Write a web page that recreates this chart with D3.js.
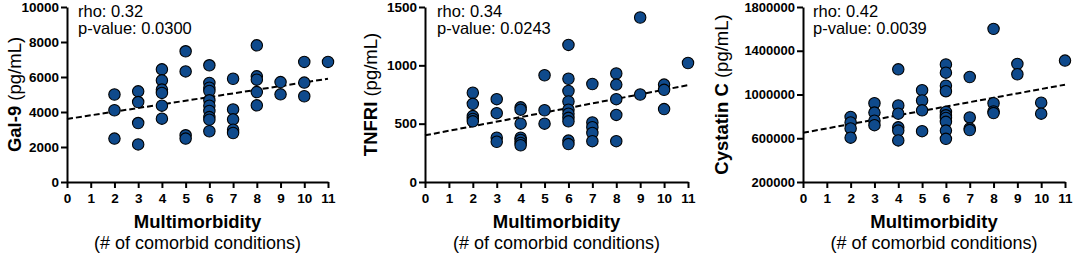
<!DOCTYPE html>
<html>
<head>
<meta charset="utf-8">
<script src="https://cdn.jsdelivr.net/npm/d3@7"></script>
<style>
  body { margin: 0; background: #fff; }
  svg { display: block; font-family: Arial, "Liberation Sans", sans-serif; }
  .axis path, .axis line { stroke: #000; stroke-width: 2; }
  .axis text { font-weight: bold; fill: #000; }
</style>
</head>
<body>
<div id="chart"></div>
<script>
// x categories: number of comorbid conditions
const morbidity = [0, 1, 2, 3, 4, 5, 6, 7, 8, 9, 10, 11];

// values per multimorbidity count (index = count)
const gal9Values = [
  [], [],
  [5000, 4100, 2480],
  [5180, 4570, 3370, 2150],
  [6440, 5810, 5280, 5090, 4360, 3620],
  [7470, 6320, 2670, 2480],
  [6670, 5660, 5390, 5200, 4670, 4360, 4060, 3710, 3560, 2900],
  [5900, 4150, 3580, 2990, 2800],
  [7810, 6040, 5850, 5140, 4380],
  [5710, 5010],
  [6860, 5680, 4900],
  [6860]
];
const tnfriValues = [
  [], [],
  [765, 670, 565, 540, 520],
  [710, 590, 380, 345],
  [640, 620, 500, 380, 360, 335, 315],
  [915, 615, 500],
  [1175, 885, 780, 690, 620, 585, 550, 520, 355, 325],
  [840, 510, 470, 420, 350],
  [930, 835, 710, 575, 350],
  [1410, 750],
  [835, 790, 625],
  [1020]
];
const cystatinValues = [
  [], [],
  [795000, 745000, 690000, 605000],
  [920000, 835000, 760000, 720000],
  [1230000, 900000, 825000, 700000, 670000, 580000],
  [1040000, 945000, 855000, 665000],
  [1275000, 1200000, 1080000, 1030000, 840000, 810000, 785000, 750000, 670000, 595000],
  [1160000, 790000, 690000, 675000],
  [1600000, 920000, 845000, 830000],
  [1280000, 1185000],
  [925000, 825000],
  [1310000]
];

// fitted line values at x = 0 and x = 11
const gal9Fit = [3600, 5900];
const tnfriFit = [400, 830];
const cystatinFit = [650000, 1090000];

const gal9Ticks = [0, 2000, 4000, 6000, 8000, 10000];
const tnfriTicks = [0, 500, 1000, 1500];
const cystatinTicks = [200000, 600000, 1000000, 1400000, 1800000];

const stats = [
  ["rho: 0.32", "p-value: 0.0300"],
  ["rho: 0.34", "p-value: 0.0243"],
  ["rho: 0.42", "p-value: 0.0039"]
];

const width = 1074, height = 256;
const padTop = 7, padBottom = 182;
const dotColor = "#0f4a8c";

const svg = d3.select("#chart").append("svg")
  .attr("width", width)
  .attr("height", height);

const panels = [
  { values: gal9Values, fit: gal9Fit, ticks: gal9Ticks, domain: [0, 10000],
    x0: 67, x1: 328, titleBold: "Gal-9", titleOff: 46, tickFont: 13.5, statsOff: 11, stats: stats[0] },
  { values: tnfriValues, fit: tnfriFit, ticks: tnfriTicks, domain: [0, 1500],
    x0: 425, x1: 688, titleBold: "TNFRI", titleOff: 48, tickFont: 13.5, statsOff: 12, stats: stats[1] },
  { values: cystatinValues, fit: cystatinFit, ticks: cystatinTicks, domain: [200000, 1800000],
    x0: 803, x1: 1065, titleBold: "Cystatin C", titleOff: 75, tickFont: 13, statsOff: 10, stats: stats[2] }
];

panels.forEach(drawPanel);

function drawPanel(p) {
  const g = svg.append("g");

  const xScale = d3.scaleLinear()
    .domain([0, 11])
    .range([p.x0, p.x1]);

  const yScale = d3.scaleLinear()
    .domain(p.domain)
    .range([padBottom, padTop]);

  // x axis
  g.append("g")
    .attr("class", "axis")
    .attr("transform", "translate(0," + padBottom + ")")
    .call(d3.axisBottom(xScale).tickValues(morbidity).tickSize(6).tickSizeOuter(0).tickPadding(5))
    .selectAll("text")
    .style("font-size", "13.5px");

  // y axis
  g.append("g")
    .attr("class", "axis")
    .attr("transform", "translate(" + p.x0 + ",0)")
    .call(d3.axisLeft(yScale).tickValues(p.ticks).tickSize(6).tickSizeOuter(0).tickPadding(2)
      .tickFormat(d3.format("d")))
    .selectAll("text")
    .style("font-size", p.tickFont + "px");

  // dashed regression line
  g.append("line")
    .attr("x1", xScale(0))
    .attr("y1", yScale(p.fit[0]))
    .attr("x2", xScale(11))
    .attr("y2", yScale(p.fit[1]))
    .style("stroke", "#000")
    .style("stroke-width", 2)
    .style("stroke-dasharray", "6,3");

  // points
  const points = [];
  p.values.forEach((vals, i) => vals.forEach(v => points.push({ x: morbidity[i], y: v })));

  g.append("g")
    .selectAll("circle")
    .data(points)
    .enter()
    .append("circle")
    .attr("cx", d => xScale(d.x))
    .attr("cy", d => yScale(d.y))
    .attr("r", 5.7)
    .style("fill", dotColor)
    .style("stroke", "#000")
    .style("stroke-width", 1.1);

  // stats text
  g.append("text")
    .attr("x", p.x0 + p.statsOff)
    .attr("y", 17)
    .style("font-size", "16.5px")
    .text(p.stats[0]);
  g.append("text")
    .attr("x", p.x0 + p.statsOff)
    .attr("y", 34)
    .style("font-size", "16.5px")
    .text(p.stats[1]);

  // y title
  const yTitle = g.append("text")
    .attr("transform", "translate(" + (p.x0 - p.titleOff) + "," + ((padTop + padBottom) / 2) + ") rotate(-90)")
    .attr("text-anchor", "middle")
    .style("font-size", "18.5px");
  yTitle.append("tspan").style("font-weight", "bold").text(p.titleBold);
  yTitle.append("tspan").text(" (pg/mL)");

  // x titles
  const xMid = (p.x0 + p.x1) / 2;
  g.append("text")
    .attr("x", xMid)
    .attr("y", 228)
    .attr("text-anchor", "middle")
    .style("font-size", "18.5px")
    .style("font-weight", "bold")
    .text("Multimorbidity");
  g.append("text")
    .attr("x", xMid)
    .attr("y", 249)
    .attr("text-anchor", "middle")
    .style("font-size", "18px")
    .text("(# of comorbid conditions)");
}
</script>
</body>
</html>
